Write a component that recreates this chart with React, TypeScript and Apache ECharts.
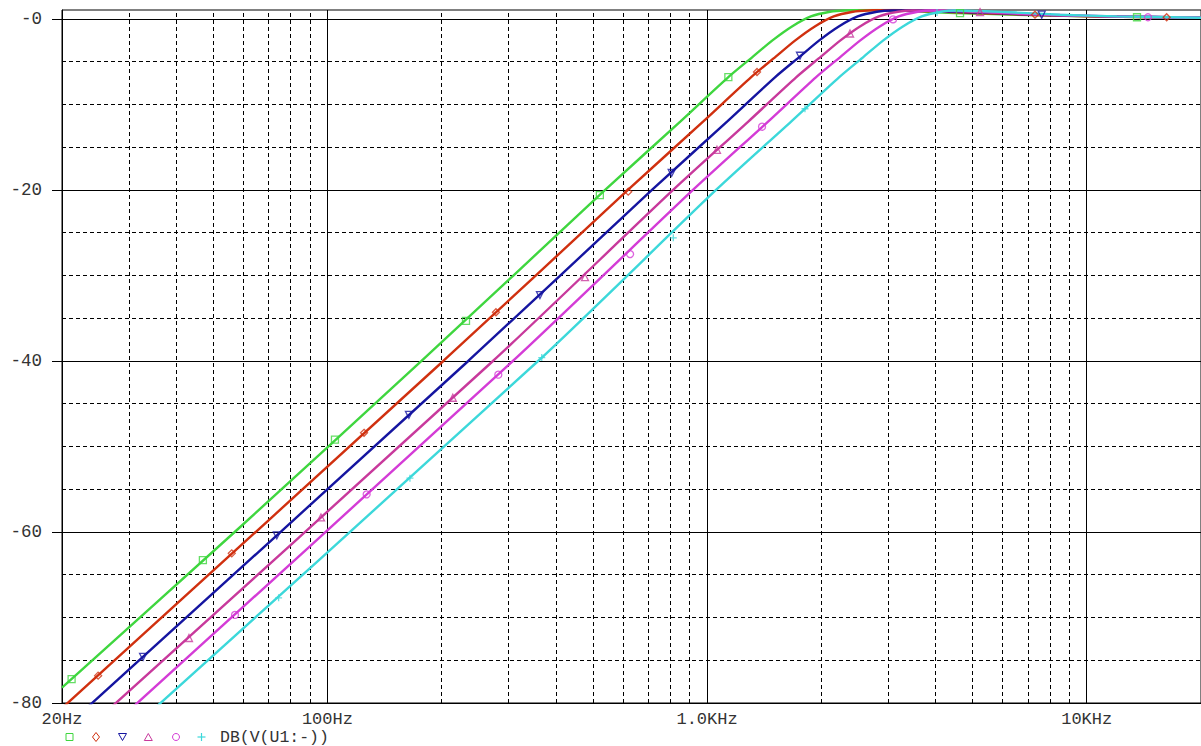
import React, { useEffect, useRef } from 'react';
import * as echarts from 'echarts';

// ---- axis data ----
const yTickValues = [-80, -60, -40, -20, 0];
const yMinorValues = [-75, -70, -65, -55, -50, -45, -35, -30, -25, -15, -10, -5];
const xTickValues = [20, 100, 1000, 10000];
const xTickLabels = ['20Hz', '100Hz', '1.0KHz', '10KHz'];
const xMinorValues = [30, 40, 50, 60, 70, 80, 90, 200, 300, 400, 500, 600, 700, 800, 900, 2000, 3000, 4000, 5000, 6000, 7000, 8000, 9000];
const traceLabel = 'DB(V(U1:-))';

// ---- traces: [frequency Hz, dB] ----
const greenLine = [[20, -78.2], [57, -60], [177, -40], [539, -20], [850, -12], [1138, -6.8], [1321, -4.4], [1487, -2.5], [1670, -0.9], [1877, 0.3], [2108, 0.85], [2308, 1.0], [2800, 1.05], [3300, 0.95], [4500, 0.7], [6500, 0.5], [10000, 0.3], [20000, 0.15]];
const redLine = [[20, -80.6], [202, -40], [619, -20], [976, -12], [1307, -6.8], [1517, -4.4], [1708, -2.5], [1918, -0.9], [2156, 0.3], [2421, 0.85], [2650, 1.0], [3100, 1.05], [3800, 0.9], [5000, 0.7], [7000, 0.5], [10000, 0.3], [20000, 0.15]];
const blueLine = [[20, -83.2], [235, -40], [716, -20], [1129, -12], [1512, -6.8], [1755, -4.4], [1975, -2.5], [2218, -0.9], [2493, 0.3], [2800, 0.85], [3066, 1.0], [3600, 1.0], [4500, 0.85], [6000, 0.65], [8000, 0.45], [12000, 0.3], [20000, 0.15]];
const pinkLine = [[20, -85.7], [273, -40], [814, -20], [1284, -12], [1719, -6.8], [1995, -4.4], [2246, -2.5], [2522, -0.9], [2835, 0.3], [3183, 0.85], [3486, 1.0], [4200, 0.95], [5500, 0.75], [7500, 0.5], [11000, 0.3], [20000, 0.15]];
const magentaLine = [[20, -88.0], [308, -40], [918, -20], [1448, -12], [1938, -6.8], [2250, -4.4], [2533, -2.5], [2844, -0.9], [3197, 0.3], [3590, 0.85], [3931, 1.0], [4700, 0.95], [6000, 0.75], [8000, 0.5], [12000, 0.3], [20000, 0.15]];
const cyanLine = [[20, -90.4], [359, -40], [1056, -20], [1665, -12], [2230, -6.8], [2588, -4.4], [2913, -2.5], [3272, -0.9], [3677, 0.3], [4130, 0.85], [4522, 1.0], [5400, 0.9], [6500, 0.75], [8500, 0.5], [12000, 0.3], [20000, 0.15]];

// ---- marker points on traces ----
const greenMarks = [[21.2, -77.2], [47, -63.3], [104.7, -49.2], [231.8, -35.3], [522, -20.6], [1138, -6.8], [4638, 0.68], [13566, 0.2]];
const redMarks = [[24.9, -76.8], [56, -62.5], [124.9, -48.4], [278, -34.3], [620, -20.2], [1354, -6.2], [7308, 0.5], [16240, 0.2]];
const blueMarks = [[32.7, -74.6], [73.6, -60.4], [164, -46.3], [363, -32.3], [807, -18.0], [1757, -4.3], [7611, 0.5]];
const pinkMarks = [[43.2, -72.4], [96.2, -58.3], [214, -44.3], [477, -30.2], [1062, -15.3], [2380, -1.7], [5236, 0.8]];
const magentaMarks = [[57.1, -69.7], [126.9, -55.6], [282, -41.6], [627, -27.5], [1396, -12.6], [3089, -0.05], [14500, 0.2]];
const cyanMarks = [[74.4, -67.7], [165, -53.7], [367, -39.6], [815, -25.6], [1811, -10.5], [4034, 0.75]];

const PLUS = 'path://M5,0L5,10M0,5L10,5';

const traces = [
  { line: greenLine, marks: greenMarks, color: '#3fd63f', symbol: 'rect', rotate: 0 },
  { line: redLine, marks: redMarks, color: '#d0300f', symbol: 'diamond', rotate: 0 },
  { line: blueLine, marks: blueMarks, color: '#1515a0', symbol: 'triangle', rotate: 180 },
  { line: pinkLine, marks: pinkMarks, color: '#c8399c', symbol: 'triangle', rotate: 0 },
  { line: magentaLine, marks: magentaMarks, color: '#d43cd6', symbol: 'circle', rotate: 0 },
  { line: cyanLine, marks: cyanMarks, color: '#3cd8da', symbol: PLUS, rotate: 0 },
];

const FONT = 'Liberation Mono, Courier New, monospace';

function buildOption() {
  const series: any[] = [];
  series.push({
    type: 'line',
    data: [[20, -80]],
    symbol: 'none',
    lineStyle: { opacity: 0 },
    silent: true,
    z: 1,
    markLine: {
      silent: true,
      symbol: 'none',
      z: 1,
      animation: false,
      label: { show: false },
      lineStyle: { color: '#000', width: 1, type: [4, 3] },
      emphasis: { disabled: true },
      data: [
        ...xMinorValues.map((v) => ({ xAxis: v })),
        ...yMinorValues.map((v) => ({ yAxis: v })),
      ],
    },
  });
  traces.forEach((t) => {
    series.push({
      type: 'line',
      data: t.line,
      symbol: 'none',
      smooth: 0.25,
      clip: true,
      z: 10,
      lineStyle: { color: t.color, width: 2.4 },
      itemStyle: { color: t.color },
    });
    series.push({
      type: 'scatter',
      data: t.marks,
      symbol: t.symbol,
      symbolRotate: t.rotate,
      symbolSize: 7,
      clip: true,
      z: 11,
      itemStyle: { color: 'rgba(255,255,255,0)', borderColor: t.color, borderWidth: 1.3 },
    });
  });

  const ly = 737;
  const legend: any[] = [
    { type: 'rect', shape: { x: 66, y: ly - 3.5, width: 7, height: 7 }, style: { fill: 'none', stroke: traces[0].color, lineWidth: 1 } },
    { type: 'polygon', shape: { points: [[96, ly - 4.5], [99.5, ly], [96, ly + 4.5], [92.5, ly]] }, style: { fill: 'none', stroke: traces[1].color, lineWidth: 1 } },
    { type: 'polygon', shape: { points: [[118.5, ly - 3.5], [126.5, ly - 3.5], [122.5, ly + 3.5]] }, style: { fill: 'none', stroke: traces[2].color, lineWidth: 1 } },
    { type: 'polygon', shape: { points: [[148.3, ly - 3.5], [152.3, ly + 3.5], [144.3, ly + 3.5]] }, style: { fill: 'none', stroke: traces[3].color, lineWidth: 1 } },
    { type: 'circle', shape: { cx: 176, cy: ly, r: 3.5 }, style: { fill: 'none', stroke: traces[4].color, lineWidth: 1 } },
    { type: 'line', shape: { x1: 197.5, y1: ly, x2: 205.5, y2: ly }, style: { stroke: traces[5].color, lineWidth: 1.2 } },
    { type: 'line', shape: { x1: 201.5, y1: ly - 4, x2: 201.5, y2: ly + 4 }, style: { stroke: traces[5].color, lineWidth: 1.2 } },
    { type: 'text', x: 220, y: ly, style: { text: traceLabel, fill: '#333', font: '16.5px ' + FONT, verticalAlign: 'middle', align: 'left' } },
  ];

  return {
    animation: false,
    backgroundColor: '#fff',
    grid: { left: 62, right: 0, top: 10, bottom: 43, show: true, borderColor: '#000', borderWidth: 1, backgroundColor: 'transparent' },
    xAxis: {
      type: 'log',
      logBase: 10,
      min: 20,
      max: 20000,
      axisLine: { show: true, lineStyle: { color: '#000', width: 1 } },
      axisTick: { show: true, inside: false, length: 8, lineStyle: { color: '#000' }, customValues: xTickValues },
      axisLabel: {
        show: true,
        customValues: xTickValues,
        margin: 8,
        color: '#333',
        fontFamily: FONT,
        fontSize: 17,
        formatter: (v: number) => {
          const i = xTickValues.findIndex((t) => Math.abs(t - v) / t < 1e-6);
          return i >= 0 ? xTickLabels[i] : '';
        },
      },
      splitLine: { show: true, lineStyle: { color: '#000', width: 1, type: 'solid' } },
      minorTick: { show: false },
    },
    yAxis: {
      type: 'value',
      min: -80,
      max: 1.05,
      interval: 20,
      axisLine: { show: true, lineStyle: { color: '#000', width: 1 } },
      axisTick: { show: true, inside: false, length: 10, lineStyle: { color: '#000' }, customValues: yTickValues },
      axisLabel: {
        show: true,
        customValues: yTickValues,
        margin: 20,
        color: '#333',
        fontFamily: FONT,
        fontSize: 17.5,
        padding: [3, 0, 0, 0],
        formatter: (v: number) => (Math.abs(v) < 1e-9 ? '-0' : String(v)),
      },
      splitLine: { show: true, lineStyle: { color: '#000', width: 1, type: 'solid' } },
    },
    graphic: legend,
    series,
  };
}

export default function App() {
  const ref = useRef<HTMLDivElement>(null);
  useEffect(() => {
    if (!ref.current) return;
    const chart = echarts.init(ref.current, null, { renderer: 'svg' });
    chart.setOption(buildOption() as any);
    return () => chart.dispose();
  }, []);
  return (
    <div
      ref={ref}
      style={{ position: 'fixed', left: 0, top: 0, width: 1201, height: 746, background: '#fff' }}
    />
  );
}
